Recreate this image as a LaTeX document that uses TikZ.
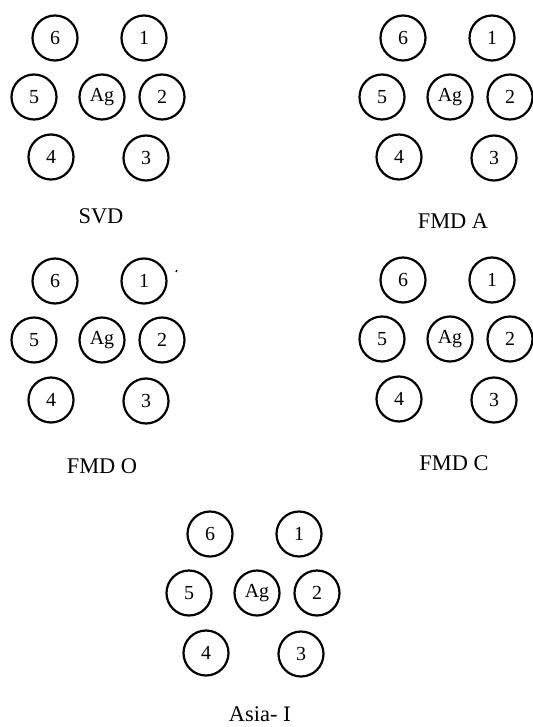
\documentclass[tikz,border=0pt]{standalone}
\usepackage{fontspec}
\setmainfont{Liberation Serif}
\newfontfamily\dvserif{DejaVu Serif}
\usetikzlibrary{calc}
\tikzset{
  ring/.style={circle, draw, line width=2.2bp, minimum size=45bp, inner sep=0pt, font=\fontsize{20}{20}\selectfont},
  grouplabel/.style={inner sep=0pt, font=\fontsize{22.5}{22.5}\selectfont}
}
\newcommand\ringset[3]{%
  \node[ring] (#1ag) at (#2,#3) {Ag};
  \node[ring] (#1s6) at ($(#1ag)+(-47,-59)$) {6};
  \node[ring] (#1s1) at ($(#1ag)+(42,-59)$) {1};
  \node[ring] (#1s5) at ($(#1ag)+(-68,0)$) {5};
  \node[ring] (#1s2) at ($(#1ag)+(60,0)$) {2};
  \node[ring] (#1s4) at ($(#1ag)+(-51,60)$) {4};
  \node[ring] (#1s3) at ($(#1ag)+(44,61)$) {3};
}
\begin{document}
\begin{tikzpicture}[x=1bp, y=-1bp]
\useasboundingbox (0,0) rectangle (533,727);
\ringset{svd}{102}{97}
\ringset{fa}{450}{97}
\ringset{fo}{102}{340}
\ringset{fc}{450}{339}
\ringset{as}{257}{593}
\node[grouplabel] (lsvd) at (101,216) {SVD};
\node[grouplabel] (lfa) at (453,221) {FMD A};
\node[grouplabel] (lfo) at (102,466) {FMD O};
\node[grouplabel] (lfc) at (454,463) {FMD C};
\node[grouplabel] (las) at (260,714) {Asia- {\dvserif\fontsize{20}{20}\selectfont Ⅰ}};
\coordinate (tk) at ($(fos1)+(32,-9)$);
\draw[line width=1.2bp] (tk) -- ++(1,-2);
\end{tikzpicture}
\end{document}
